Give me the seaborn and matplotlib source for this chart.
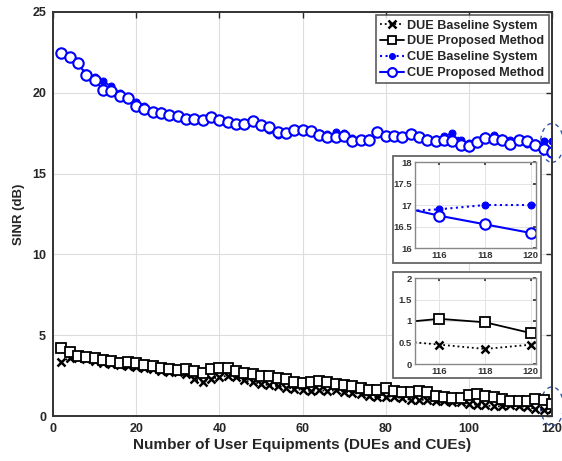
import numpy as np
import pandas as pd
import matplotlib
matplotlib.use("Agg")
import matplotlib.pyplot as plt
import seaborn as sns
from matplotlib.patches import Rectangle, Ellipse

sns.set_theme(style="white")
plt.rcParams['font.family'] = ['Liberation Sans', 'DejaVu Sans']
plt.rcParams['font.weight'] = 'bold'

num_ue = list(range(2, 121, 2))

cue_proposed = [22.45, 22.2, 21.83, 21.1, 20.8, 20.2, 20.1, 19.8, 19.7, 19.2,
                19.0, 18.8, 18.75, 18.64, 18.58, 18.4, 18.4, 18.3, 18.5, 18.3,
                18.2, 18.1, 18.05, 18.25, 18.0, 17.9, 17.6, 17.5, 17.7, 17.7,
                17.65, 17.4, 17.25, 17.25, 17.3, 17.0, 17.05, 17.1, 17.55, 17.3,
                17.35, 17.25, 17.45, 17.25, 17.1, 17.04, 17.1, 17.0, 16.8, 16.7,
                16.95, 17.2, 17.15, 17.1, 16.85, 17.05, 16.99, 16.75, 16.55, 16.35]

cue_baseline = [22.45, 22.2, 21.83, 21.2, 21.0, 20.7, 20.4, 20.0, 19.7, 19.4,
                19.2, 18.9, 18.9, 18.64, 18.58, 18.4, 18.4, 18.3, 18.5, 18.3,
                18.2, 18.1, 18.05, 18.25, 18.0, 17.7, 17.4, 17.5, 17.7, 17.7,
                17.65, 17.5, 17.45, 17.55, 17.5, 17.2, 17.1, 17.2, 17.55, 17.3,
                17.35, 17.25, 17.45, 17.25, 17.2, 17.15, 17.3, 17.5, 17.1, 16.9,
                17.0, 17.3, 17.4, 17.2, 17.1, 17.0, 16.84, 16.9, 17.0, 17.0]

due_proposed = [4.18, 3.93, 3.72, 3.68, 3.56, 3.46, 3.40, 3.31, 3.35, 3.31,
                3.15, 3.07, 2.94, 2.90, 2.86, 2.90, 2.80, 2.65, 2.90, 2.94,
                2.94, 2.80, 2.65, 2.59, 2.49, 2.45, 2.36, 2.28, 2.12, 2.04,
                2.08, 2.18, 2.08, 1.98, 1.91, 1.83, 1.71, 1.62, 1.62, 1.71,
                1.56, 1.46, 1.50, 1.54, 1.46, 1.25, 1.15, 1.13, 1.09, 1.30,
                1.36, 1.25, 1.15, 1.05, 0.95, 0.93, 0.95, 1.05, 0.97, 0.72]

due_baseline = [3.35, 3.6, 3.6, 3.5, 3.4, 3.3, 3.2, 3.15, 3.1, 3.05,
                2.95, 2.9, 2.8, 2.75, 2.7, 2.6, 2.3, 2.1, 2.3, 2.4,
                2.5, 2.4, 2.2, 2.1, 2.0, 1.9, 1.85, 1.75, 1.7, 1.6,
                1.55, 1.6, 1.55, 1.6, 1.5, 1.45, 1.35, 1.25, 1.15, 1.2,
                1.2, 1.1, 1.0, 1.0, 1.0, 0.95, 0.9, 0.85, 0.85, 0.75,
                0.7, 0.65, 0.6, 0.6, 0.65, 0.6, 0.55, 0.45, 0.35, 0.45]

x_ticks = [0, 20, 40, 60, 80, 100, 120]
y_ticks = [0, 5, 10, 15, 20, 25]

BLUE = '#0000ff'
styles = [
    ("DUE Baseline System", due_baseline, dict(color='black', linestyle=':', marker='x', markersize=6, markeredgecolor='black', markeredgewidth=1.8, linewidth=1.3)),
    ("DUE Proposed Method", due_proposed, dict(color='black', linestyle='-', marker='s', markersize=7.5, markerfacecolor='white', markeredgecolor='black', markeredgewidth=1.3, linewidth=1.3)),
    ("CUE Baseline System", cue_baseline, dict(color=BLUE, linestyle=':', marker='o', markersize=5, markerfacecolor=BLUE, markeredgecolor=BLUE, linewidth=1.5)),
    ("CUE Proposed Method", cue_proposed, dict(color=BLUE, linestyle='-', marker='o', markersize=7.5, markerfacecolor='white', markeredgecolor=BLUE, markeredgewidth=1.5, linewidth=1.5)),
]

fig = plt.figure(figsize=(5.62, 4.61), dpi=100)
ax = fig.add_axes([53/562, 45/461, 499/562, 404/461])

def draw(axis, legend=True):
    for name, vals, kw in styles:
        df = pd.DataFrame({"x": num_ue, "y": vals})
        sns.lineplot(data=df, x="x", y="y", ax=axis, label=name if legend else None,
                     legend=legend, **kw)

draw(ax)
ax.set_xlim(0, 120)
ax.set_ylim(0, 25)
ax.set_xticks(x_ticks)
ax.set_yticks(y_ticks)
ax.grid(True, color='#dddddd', linewidth=0.8)
ax.tick_params(direction='in', top=True, right=True, length=4, labelsize=9, colors='#262626', width=1, pad=5)
for lab in ax.get_xticklabels() + ax.get_yticklabels():
    lab.set_fontweight('bold')
for s in ax.spines.values():
    s.set_color('#333333')
    s.set_linewidth(1.4)
ax.set_xlabel("Number of User Equipments (DUEs and CUEs)", fontsize=11, fontweight='bold', color='#262626', labelpad=2)
ax.set_ylabel("SINR (dB)", fontsize=9.5, fontweight='bold', color='#262626', labelpad=5)

leg = ax.legend(loc='upper right', fontsize=9.1, frameon=True, fancybox=False,
                borderpad=0.35, labelspacing=0.3, handlelength=1.9, handletextpad=0.25,
                borderaxespad=0.25, markerscale=0.85)
leg.get_frame().set_edgecolor('#333333')
leg.get_frame().set_linewidth(1.2)
for t in leg.get_texts():
    t.set_fontweight('bold')

# dashed ellipses marking zoomed regions
ax.add_patch(Ellipse((120, 16.9), 5.5, 2.4, fill=False, linestyle=(0, (3, 3)), edgecolor='#3355aa', linewidth=1, clip_on=False))
ax.add_patch(Ellipse((120, 0.6), 5.5, 2.4, fill=False, linestyle=(0, (3, 3)), edgecolor='#3355aa', linewidth=1, clip_on=False))

def inset(frame_px, ax_px, ylim, yticks):
    W, H = 562, 461
    fx0, fy0, fx1, fy1 = frame_px
    fig.add_artist(Rectangle((fx0/W, 1 - fy1/H), (fx1-fx0)/W, (fy1-fy0)/H,
                             transform=fig.transFigure, facecolor='white',
                             edgecolor='#666666', linewidth=1.3, zorder=5))
    ax0, ay0, ax1, ay1 = ax_px
    ia = fig.add_axes([ax0/W, 1 - ay1/H, (ax1-ax0)/W, (ay1-ay0)/H], zorder=6)
    draw(ia, legend=False)
    ia.set_xlim(114.93, 120.23)
    ia.set_ylim(*ylim)
    ia.set_xticks([116, 118, 120])
    ia.set_yticks(yticks)
    ia.set_yticklabels([f"{v:g}" for v in yticks])
    ia.set_xlabel("")
    ia.set_ylabel("")
    ia.grid(True, color='#e3e3e3', linewidth=0.7)
    ia.tick_params(direction='in', top=True, right=True, length=2.5, labelsize=6.8, colors='#333333', pad=2)
    for lab in ia.get_xticklabels() + ia.get_yticklabels():
        lab.set_fontweight('bold')
    for s in ia.spines.values():
        s.set_color('#888888')
        s.set_linewidth(1)
    return ia

inset((393, 156, 541, 263), (415, 162, 536, 248), (16, 18), [16, 16.5, 17, 17.5, 18])
inset((393, 272, 541, 378), (415, 278, 536, 364), (0, 2), [0, 0.5, 1, 1.5, 2])

fig.savefig("out.png", dpi=100)
